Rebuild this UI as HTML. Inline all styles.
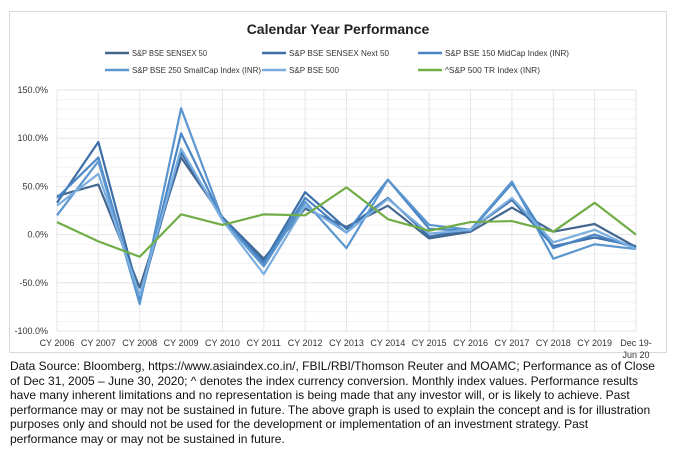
<!DOCTYPE html>
<html><head><meta charset="utf-8"><style>
body{margin:0;background:#fff;width:676px;height:462px;overflow:hidden;font-family:"Liberation Sans",sans-serif}
#box{position:absolute;left:9px;top:11px;width:656px;height:340px;border:1px solid #d9d9d9;background:#fff}
#note{position:absolute;left:10px;top:359px;width:660px;font-size:12px;line-height:14.6px;color:#111;white-space:nowrap}
</style></head><body>
<div id="box"></div>
<svg id="chart" width="676" height="462" style="position:absolute;left:0;top:0"></svg>
<div id="note">Data Source: Bloomberg, https://www.asiaindex.co.in/, FBIL/RBI/Thomson Reuter and MOAMC; Performance as of Close<br>of Dec 31, 2005 – June 30, 2020; ^ denotes the index currency conversion. Monthly index values. Performance results<br>have many inherent limitations and no representation is being made that any investor will, or is likely to achieve. Past<br>performance may or may not be sustained in future. The above graph is used to explain the concept and is for illustration<br>purposes only and should not be used for the development or implementation of an investment strategy. Past<br>performance may or may not be sustained in future.</div>
<script>
const categories=["CY 2006","CY 2007","CY 2008","CY 2009","CY 2010","CY 2011","CY 2012","CY 2013","CY 2014","CY 2015","CY 2016","CY 2017","CY 2018","CY 2019","Dec 19-|Jun 20"];
const sensex50=[40,52,-55,80,18,-25,27,8,30,-4,3,28,3,11,-13];
const next50=[33,96,-65,85,18,-28,44,6,38,-2,5,36,-12,-3,-12];
const midcap=[38,80,-70,105,16,-30,38,2,57,6,4,53,-14,0,-14];
const smallcap=[20,76,-72,131,16,-33,34,-14,57,10,5,55,-25,-10,-15];
const bse500=[30,63,-63,89,15,-41,30,2,37,1,5,38,-8,5,-15];
const sp500=[13,-7,-23,21,10,21,20,49,16,4,13,14,3,33,0];
const yTicks=[150,100,50,0,-50,-100];
const seriesNames=["S&P BSE SENSEX 50","S&P BSE SENSEX Next 50","S&P BSE 150 MidCap Index (INR)","S&P BSE 250 SmallCap Index (INR)","S&P BSE 500","^S&P 500 TR Index (INR)"];
const svg=document.getElementById('chart');const NS="http://www.w3.org/2000/svg";
const x0=57,x1=636,yTop=90,yBot=331;
const xs=i=>x0+i*(x1-x0)/(categories.length-1);
const ys=v=>yTop+(150-v)*(yBot-yTop)/250;
function mk(t,a){const e=document.createElementNS(NS,t);for(const k in a)e.setAttribute(k,a[k]);svg.appendChild(e);return e;}
let t=mk('text',{x:338,y:34,'text-anchor':'middle','font-size':'14','font-weight':'bold',fill:'#222'});t.textContent="Calendar Year Performance";


for(let v=150;v>=-100;v-=10){mk('line',{x1:x0,x2:x1,y1:ys(v),y2:ys(v),stroke:v%50===0?'#e3e3e3':'#f2f2f2','stroke-width':1});}
categories.forEach((c,i)=>{mk('line',{x1:xs(i),x2:xs(i),y1:yTop,y2:yBot,stroke:'#e6e6e6'});
 const parts=c.split('|');parts.forEach((p,j)=>{let e=mk('text',{x:xs(i),y:346+j*12,'text-anchor':'middle','font-size':'9',fill:'#333'});e.textContent=p;
 
 });});
yTicks.forEach(v=>{let e=mk('text',{x:48,y:ys(v)+3,'text-anchor':'end','font-size':'9',fill:'#333'});e.textContent=v.toFixed(1)+"%";
 
 });
const data=[sensex50,next50,midcap,smallcap,bse500,sp500];
const colors=["#44678f","#3d6fa8","#4a86c5","#5b96cf","#7aaee0","#70ad47"];
const legPos=[[105,53],[262,53],[418,53],[105,70],[262,70],[418,70]];
const legLen=[75,100,124,129,50,95];
data.forEach((d,s)=>{
 let p=mk('polyline',{points:d.map((v,i)=>xs(i)+','+ys(v)).join(' '),fill:'none',stroke:colors[s],'stroke-width':2.2,'stroke-linejoin':'round'});
 
 
 const [lx,ly]=legPos[s];
 mk('line',{x1:lx,x2:lx+24,y1:ly,y2:ly,stroke:colors[s],'stroke-width':2.5});
 let e=mk('text',{x:lx+27,y:ly+3,'font-size':'8',fill:'#333',textLength:legLen[s],lengthAdjust:'spacingAndGlyphs'});e.textContent=seriesNames[s];
 
 
});
</script>
</body></html>
